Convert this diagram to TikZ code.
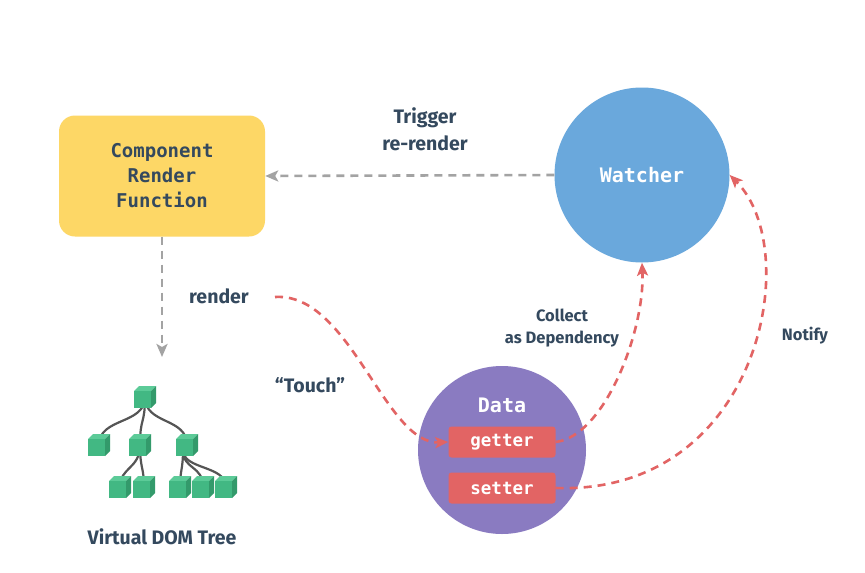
\documentclass[tikz,border=0pt]{standalone}
\usepackage{fontspec}
\setmainfont{Fira Sans}
\newfontfamily\monof{DejaVu Sans Mono}
\usetikzlibrary{arrows.meta,calc}
\definecolor{txt}{HTML}{34495E}
\definecolor{yel}{HTML}{FDD766}
\definecolor{blu}{HTML}{6AA8DC}
\definecolor{pur}{HTML}{8A7BC1}
\definecolor{red1}{HTML}{E26464}
\definecolor{gry}{HTML}{A3A3A3}
\definecolor{cfront}{HTML}{42B883}
\definecolor{ctop}{HTML}{5CCB98}
\definecolor{cside}{HTML}{339A6B}
\definecolor{tline}{HTML}{555555}
\tikzset{
  lbl/.style={text=txt,font=\fontsize{19.5}{27}\selectfont\bfseries,align=center},
  smlbl/.style={text=txt,font=\fontsize{16.5}{22}\selectfont\bfseries,align=center},
  mono/.style={font=\monof\bfseries\fontsize{19}{25}\selectfont},
  greyarrow/.style={draw=gry,line width=2.6pt,dash pattern=on 8pt off 6pt,-{Stealth[length=13pt,width=11pt,inset=3pt]}},
  redarrow/.style={draw=red1,line width=2.6pt,dash pattern=on 8pt off 6pt,-{Stealth[length=13pt,width=11pt,inset=3pt]}},
  acc/.style={fill=red1,rounded corners=3pt,minimum width=107pt,minimum height=31pt,inner sep=0pt,text=white,font=\monof\bfseries\fontsize{17.5}{19}\selectfont},
  treeline/.style={draw=tline,line width=2.2pt},
  pics/cube/.style={code={
    \fill[ctop] (-11,-6) -- (-6,-11) -- (11,-11) -- (6,-6) -- cycle;
    \fill[cside] (6,-6) -- (11,-11) -- (11,6) -- (6,11) -- cycle;
    \fill[cfront] (-11,-6) rectangle (6,11);
  }}
}
\begin{document}
\begin{tikzpicture}[x=1pt,y=-1pt]
\useasboundingbox[fill=white] (0,0) rectangle (865,573);

% component box
\node[fill=yel,rounded corners=16pt,minimum width=206pt,minimum height=121pt,inner sep=0pt,text=txt,mono,align=center] (comp) at (162,176) {Component\\Render\\Function};

% watcher
\node[circle,fill=blu,minimum size=175pt,inner sep=0pt,text=white,font=\monof\bfseries\fontsize{20}{24}\selectfont] (watch) at (642,175) {Watcher};

% data
\node[circle,fill=pur,minimum size=168pt,inner sep=0pt] (data) at (502,450) {};
\node[text=white,font=\monof\bfseries\fontsize{20}{24}\selectfont] (dlab) at (502,405) {Data};
\node[acc] (get) at (502,442) {getter};
\node[acc] (set) at (502,488) {setter};

% labels
\node[lbl] (trig) at (425,129) {Trigger\\re-render};
\node[lbl] (rend) at (219,296) {render};
\node[lbl] (touch) at (310,385) {“Touch”};
\node[smlbl] (coll) at (562,328) {Collect\\as Dependency};
\node[smlbl] (noti) at (805,336) {Notify};
\node[lbl] (vdom) at (162,537) {Virtual DOM Tree};

% grey arrows
\draw[greyarrow] (watch.west) -- (comp.east);
\coordinate (treetop) at (162,357);
\draw[greyarrow] (comp.south) -- (treetop);

% red arrows
\coordinate (rs) at (275,297);
\draw[redarrow] (rs) .. controls (350,292) and (385,445) .. (get.west);
\draw[redarrow] (get.east) .. controls (605,436) and (645,330) .. (watch.south);
\draw[redarrow] (set.east) .. controls (760,495) and (805,250) .. (watch.east);

% tree
\coordinate (r) at (145,397);
\coordinate (a) at (99,445);
\coordinate (b) at (140,445);
\coordinate (c) at (187,445);
\coordinate (b1) at (120,487);
\coordinate (b2) at (144,487);
\coordinate (c1) at (180,487);
\coordinate (c2) at (203,487);
\coordinate (c3) at (226,487);
\draw[treeline] (r) .. controls ($(r)+(0,28)$) and ($(a)+(0,-28)$) .. (a);
\draw[treeline] (r) .. controls ($(r)+(0,28)$) and ($(b)+(0,-28)$) .. (b);
\draw[treeline] (r) .. controls ($(r)+(0,28)$) and ($(c)+(0,-28)$) .. (c);
\draw[treeline] (b) .. controls ($(b)+(0,24)$) and ($(b1)+(0,-20)$) .. (b1);
\draw[treeline] (b) .. controls ($(b)+(0,24)$) and ($(b2)+(0,-20)$) .. (b2);
\draw[treeline] (183,450) .. controls (183,470) and (180,470) .. (c1);
\draw[treeline] (183,450) .. controls (183,470) and ($(c2)+(0,-22)$) .. (c2);
\draw[treeline] (183,450) .. controls (183,470) and ($(c3)+(0,-22)$) .. (c3);
\foreach \p in {r,a,b,c,b1,b2,c1,c2,c3} { \pic at (\p) {cube}; }
\end{tikzpicture}
\end{document}
